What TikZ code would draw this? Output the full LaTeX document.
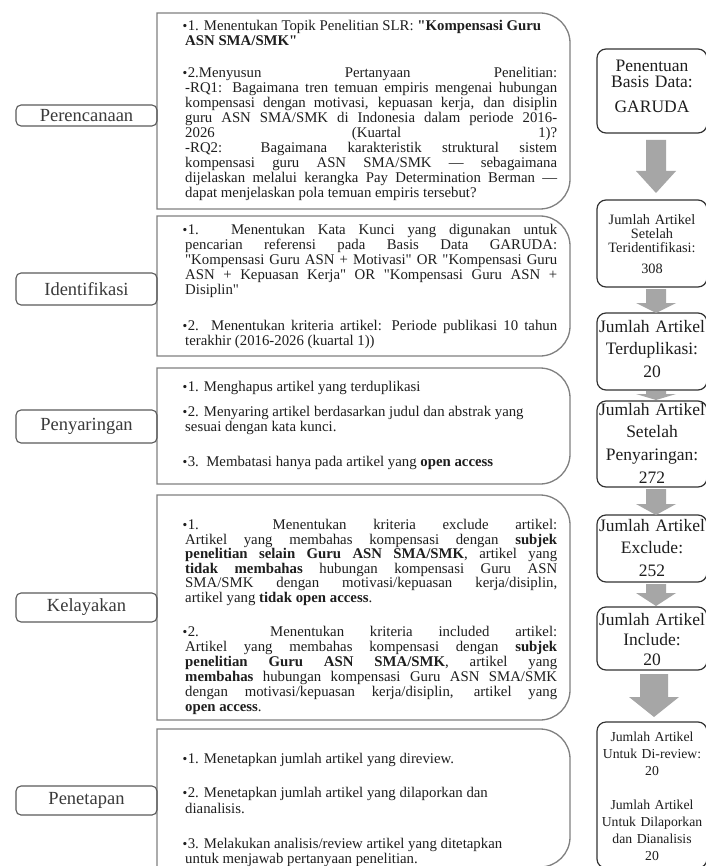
\documentclass[tikz,border=0pt]{standalone}
\usepackage{fontspec}
\setmainfont{Liberation Serif}[Ligatures=TeXOff]
\usepackage{xcolor}
\definecolor{txt}{HTML}{1E1E1E}
\definecolor{labtxt}{HTML}{3A3A3A}
\definecolor{bigline}{HTML}{808080}
\definecolor{labline}{HTML}{5A5A5A}
\definecolor{rline}{HTML}{333333}
\definecolor{arr}{HTML}{A6A6A6}
\newcommand{\JL}[1]{\makebox[372pt][s]{#1}}
\newcommand{\para}[1]{\parbox[t]{372pt}{\raggedright #1}}
\newcommand{\bul}{\hspace*{-2.5pt}{\fontsize{13.5}{13.5}\selectfont\textbullet}\hspace{0.4pt}}
\newcommand{\bigboxpath}[2]{\draw[bigbox] (157,-#1) -- (540,-#1) arc[start angle=90,end angle=0,radius=30] -- (570,{-#2+30}) arc[start angle=0,end angle=-90,radius=30] -- (157,-#2) -- cycle;}
\newcommand{\barrow}[6]{\fill[arrowfill] ({#1-#5},-#2) -- ({#1+#5},-#2) -- ({#1+#5},-#3) -- ({#1+#6},-#3) -- (#1,-#4) -- ({#1-#6},-#3) -- ({#1-#5},-#3) -- cycle;}
\tikzset{
  bigbox/.style={draw=bigline, line width=1.3pt},
  lab/.style={draw=labline, line width=1.1pt, rounded corners=5pt, minimum width=141pt, inner sep=0pt, text=labtxt, font=\fontsize{18.5}{18.5}\selectfont},
  bodytxt/.style={anchor=base west, inner sep=0pt, text=txt, font=\fontsize{14.8}{15}\selectfont},
  rbox/.style={draw=rline, line width=1.2pt, rounded corners=9pt, minimum width=110pt, inner sep=0pt},
  rtxt/.style={anchor=base, text width=110pt, align=center, inner sep=0pt, text=txt},
  arrowfill/.style={fill=arr, draw=none}
}
\begin{document}
\begin{tikzpicture}[x=1pt,y=1pt]
\fill[white] (0,0) rectangle (705,-866);
\useasboundingbox (0,0) rectangle (705,-866);

% big boxes
\bigboxpath{13}{209}
\bigboxpath{216}{356}
\bigboxpath{368}{484}
\bigboxpath{495}{720}
\bigboxpath{729}{867}

% labels
\node[lab, minimum height=21pt] (l1) at (86.5,-115.5) {Perencanaan};
\node[lab, minimum height=32pt] (l2) at (86.5,-289) {Identifikasi};
\node[lab, minimum height=33pt] (l3) at (86.5,-426.5) {Penyaringan};
\node[lab, minimum height=29pt] (l4) at (86.5,-607.5) {Kelayakan};
\node[lab, minimum height=29pt] (l5) at (86.5,-800.5) {Penetapan};

% box 1 text
\node[bodytxt, font=\fontsize{14.8}{15.5}\selectfont] (t11) at (185,-30.5) {\para{\bul 1. Menentukan Topik Penelitian SLR: \textbf{"Kompensasi Guru}\\ \textbf{ASN SMA/SMK"}}};
\node[bodytxt] (t12) at (185,-78) {\para{\JL{\bul 2.Menyusun Pertanyaan Penelitian:}\\
\JL{-RQ1: Bagaimana tren temuan empiris mengenai hubungan}\\
\JL{kompensasi dengan motivasi, kepuasan kerja, dan disiplin}\\
\JL{guru ASN SMA/SMK di Indonesia dalam periode 2016-}\\
\JL{2026 (Kuartal 1)?}\\
\JL{-RQ2: Bagaimana karakteristik struktural sistem}\\
\JL{kompensasi guru ASN SMA/SMK — sebagaimana}\\
\JL{dijelaskan melalui kerangka Pay Determination Berman —}\\
dapat menjelaskan pola temuan empiris tersebut?}};

% box 2 text
\node[bodytxt] (t21) at (185,-234.5) {\para{\JL{\bul 1. Menentukan Kata Kunci yang digunakan untuk}\\
\JL{pencarian referensi pada Basis Data GARUDA:}\\
\JL{"Kompensasi Guru ASN + Motivasi" OR "Kompensasi Guru}\\
\JL{ASN + Kepuasan Kerja" OR "Kompensasi Guru ASN +}\\
Disiplin"}};
\node[bodytxt, font=\fontsize{14.8}{14.5}\selectfont] (t22) at (185,-330.5) {\para{\JL{\bul 2. Menentukan kriteria artikel: Periode publikasi 10 tahun}\\
terakhir (2016-2026 (kuartal 1))}};

% box 3 text
\node[bodytxt] (t31) at (185,-391.5) {\para{\bul 1. Menghapus artikel yang terduplikasi}};
\node[bodytxt] (t32) at (185,-416.5) {\para{\bul 2. Menyaring artikel berdasarkan judul dan abstrak yang\\ sesuai dengan kata kunci.}};
\node[bodytxt] (t33) at (185,-466.5) {\para{\bul 3.\ \ Membatasi hanya pada artikel yang \textbf{open access}}};

% box 4 text
\node[bodytxt, font=\fontsize{14.8}{14.6}\selectfont] (t41) at (185,-529.5) {\para{\JL{\bul 1. Menentukan kriteria exclude artikel:}\\
\JL{Artikel yang membahas kompensasi dengan \textbf{subjek}}\\
\JL{\textbf{penelitian selain Guru ASN SMA/SMK}, artikel yang}\\
\JL{\textbf{tidak membahas} hubungan kompensasi Guru ASN}\\
\JL{SMA/SMK dengan motivasi/kepuasan kerja/disiplin,}\\
artikel yang \textbf{tidak open access}.}};
\node[bodytxt] (t42) at (185,-636.5) {\para{\JL{\bul 2. Menentukan kriteria included artikel:}\\
\JL{Artikel yang membahas kompensasi dengan \textbf{subjek}}\\
\JL{\textbf{penelitian Guru ASN SMA/SMK}, artikel yang}\\
\JL{\textbf{membahas} hubungan kompensasi Guru ASN SMA/SMK}\\
\JL{dengan motivasi/kepuasan kerja/disiplin, artikel yang}\\
\textbf{open access}.}};

% box 5 text
\node[bodytxt] (t51) at (185,-763.5) {\para{\bul 1. Menetapkan jumlah artikel yang direview.}};
\node[bodytxt, font=\fontsize{14.8}{16}\selectfont] (t52) at (185,-797) {\para{\bul 2. Menetapkan jumlah artikel yang dilaporkan dan\\ dianalisis.}};
\node[bodytxt] (t53) at (185,-848.5) {\para{\bul 3. Melakukan analisis/review artikel yang ditetapkan\\ untuk menjawab pertanyaan penelitian.}};

% right column boxes
\node[rbox, minimum height=84pt] (bA) at (652,-91) {};
\node[rbox, minimum height=87pt] (bB) at (652,-243.5) {};
\node[rbox, minimum height=77pt] (bC) at (652,-351.5) {};
\node[rbox, minimum height=86pt] (bD) at (652,-444) {};
\node[rbox, minimum height=67pt] (bE) at (652,-548.5) {};
\node[rbox, minimum height=63pt] (bF) at (652,-638.5) {};
\node[rbox, minimum height=146pt] (bG) at (652,-795) {};

\node[rtxt, font=\fontsize{17.5}{16}\selectfont] (tA) at (652,-71.5) {Penentuan\\ Basis Data:\\[9pt] GARUDA};
\node[rtxt, font=\fontsize{14.3}{14}\selectfont] (tB) at (652,-225) {Jumlah Artikel\\ Setelah\\ Teridentifikasi:\\[7pt] 308};
\node[rtxt, font=\fontsize{17.5}{22.5}\selectfont] (tC) at (652,-332) {Jumlah Artikel\\ Terduplikasi:\\ 20};
\node[rtxt, font=\fontsize{17.5}{22.7}\selectfont] (tD) at (652,-415) {Jumlah Artikel\\ Setelah\\ Penyaringan:\\ 272};
\node[rtxt, font=\fontsize{17.5}{22.5}\selectfont] (tE) at (652,-531) {Jumlah Artikel\\ Exclude:\\ 252};
\node[rtxt, font=\fontsize{17.5}{20}\selectfont] (tF) at (652,-625) {Jumlah Artikel\\ Include:\\ 20};
\node[rtxt, font=\fontsize{13.7}{17}\selectfont] (tG) at (652,-741) {Jumlah Artikel\\ Untuk Di-review:\\ 20\\ \mbox{}\\ Jumlah Artikel\\ Untuk Dilaporkan\\ dan Dianalisis\\ 20};

% block arrows
\barrow{656}{140}{171}{193}{10}{20}
\barrow{656}{289}{303}{313}{10}{20}
\barrow{656}{391}{394}{400}{10}{20}
\barrow{656}{489}{504}{515}{10}{20}
\barrow{656}{584}{593}{606}{10}{20}
\barrow{654}{674}{697}{717}{14}{25}
\end{tikzpicture}
\end{document}
